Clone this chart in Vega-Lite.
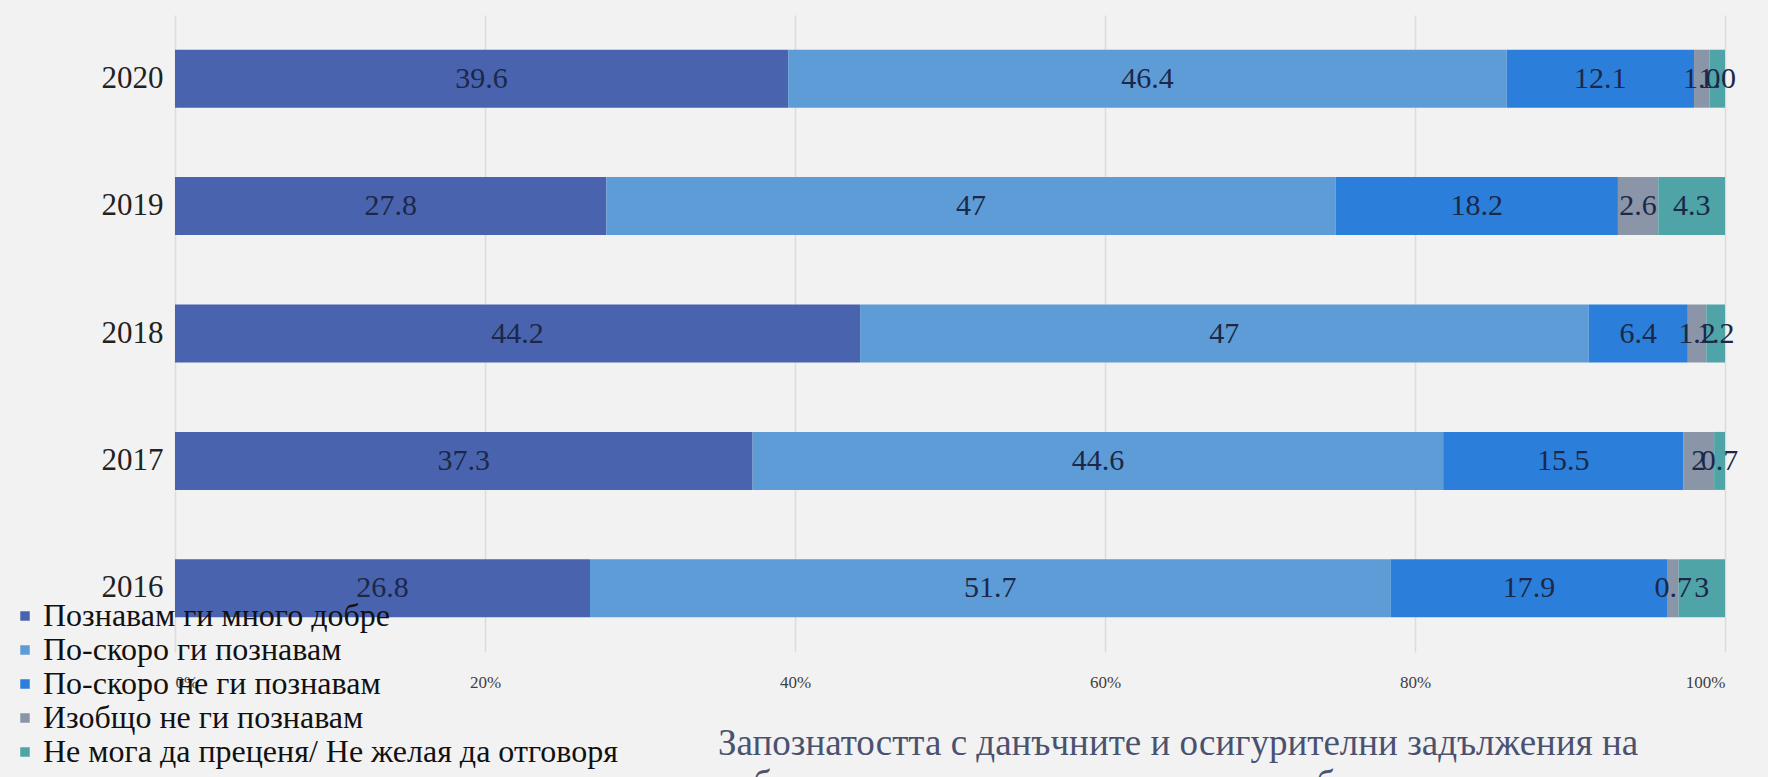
{
  "$schema": "https://vega.github.io/schema/vega-lite/v6.json",
  "autosize": {"type": "none"},
  "width": 1550,
  "height": 637,
  "padding": {"left": 175, "top": 15, "right": 43, "bottom": 125},
  "background": "#f2f2f2",
  "config": {
    "view": {"stroke": null},
    "font": "Liberation Serif"
  },
  "title": {
    "text": ["Запознатостта с данъчните и осигурителни задължения на", "собствената компания продължава да бъде много висока, като"],
    "orient": "bottom",
    "anchor": "start",
    "frame": "group",
    "dx": 543,
    "offset": -42,
    "fontSize": 37,
    "font": "Liberation Serif",
    "fontWeight": "normal",
    "color": "#4a5270",
    "lineHeight": 41
  },
  "data": {
    "values": [
      {"year": "2020", "k": 1, "cat": "Познавам ги много добре", "v": 39.6, "t": "39.6"},
      {"year": "2020", "k": 2, "cat": "По-скоро ги познавам", "v": 46.4, "t": "46.4"},
      {"year": "2020", "k": 3, "cat": "По-скоро не ги познавам", "v": 12.1, "t": "12.1"},
      {"year": "2020", "k": 4, "cat": "Изобщо не ги познавам", "v": 1.0, "t": "1.0"},
      {"year": "2020", "k": 5, "cat": "Не мога да преценя/ Не желая да отговоря", "v": 1.0, "t": "1.0"},
      {"year": "2019", "k": 1, "cat": "Познавам ги много добре", "v": 27.8, "t": "27.8"},
      {"year": "2019", "k": 2, "cat": "По-скоро ги познавам", "v": 47, "t": "47"},
      {"year": "2019", "k": 3, "cat": "По-скоро не ги познавам", "v": 18.2, "t": "18.2"},
      {"year": "2019", "k": 4, "cat": "Изобщо не ги познавам", "v": 2.6, "t": "2.6"},
      {"year": "2019", "k": 5, "cat": "Не мога да преценя/ Не желая да отговоря", "v": 4.3, "t": "4.3"},
      {"year": "2018", "k": 1, "cat": "Познавам ги много добре", "v": 44.2, "t": "44.2"},
      {"year": "2018", "k": 2, "cat": "По-скоро ги познавам", "v": 47, "t": "47"},
      {"year": "2018", "k": 3, "cat": "По-скоро не ги познавам", "v": 6.4, "t": "6.4"},
      {"year": "2018", "k": 4, "cat": "Изобщо не ги познавам", "v": 1.2, "t": "1.2"},
      {"year": "2018", "k": 5, "cat": "Не мога да преценя/ Не желая да отговоря", "v": 1.2, "t": "1.2"},
      {"year": "2017", "k": 1, "cat": "Познавам ги много добре", "v": 37.3, "t": "37.3"},
      {"year": "2017", "k": 2, "cat": "По-скоро ги познавам", "v": 44.6, "t": "44.6"},
      {"year": "2017", "k": 3, "cat": "По-скоро не ги познавам", "v": 15.5, "t": "15.5"},
      {"year": "2017", "k": 4, "cat": "Изобщо не ги познавам", "v": 2, "t": "2"},
      {"year": "2017", "k": 5, "cat": "Не мога да преценя/ Не желая да отговоря", "v": 0.7, "t": "0.7"},
      {"year": "2016", "k": 1, "cat": "Познавам ги много добре", "v": 26.8, "t": "26.8"},
      {"year": "2016", "k": 2, "cat": "По-скоро ги познавам", "v": 51.7, "t": "51.7"},
      {"year": "2016", "k": 3, "cat": "По-скоро не ги познавам", "v": 17.9, "t": "17.9"},
      {"year": "2016", "k": 4, "cat": "Изобщо не ги познавам", "v": 0.7, "t": "0.7"},
      {"year": "2016", "k": 5, "cat": "Не мога да преценя/ Не желая да отговоря", "v": 3, "t": "3"}
    ]
  },
  "transform": [
    {"stack": "v", "groupby": ["year"], "sort": [{"field": "k", "order": "ascending"}], "offset": "normalize", "as": ["s", "e"]}
  ],
  "encoding": {
    "y": {
      "field": "year",
      "type": "ordinal",
      "sort": "descending",
      "scale": {"paddingInner": 0.545, "paddingOuter": 0.2725},
      "axis": {"title": null, "domain": false, "ticks": false, "labelFont": "Liberation Serif", "labelFontSize": 31, "labelColor": "#222222", "labelPadding": 12}
    }
  },
  "layer": [
    {
      "mark": {"type": "bar"},
      "encoding": {
        "x": {
          "field": "s",
          "type": "quantitative",
          "scale": {"domain": [0, 1], "nice": false, "zero": true},
          "axis": {"title": null, "format": "%", "values": [0, 0.2, 0.4, 0.6, 0.8, 1], "domain": false, "ticks": false, "grid": true, "gridColor": "#dcdcdc", "gridWidth": 1.5, "labelFont": "Liberation Serif", "labelFontSize": 17, "labelColor": "#404040", "labelPadding": 22}
        },
        "x2": {"field": "e"},
        "color": {
          "field": "cat",
          "type": "nominal",
          "scale": {
            "domain": ["Познавам ги много добре", "По-скоро ги познавам", "По-скоро не ги познавам", "Изобщо не ги познавам", "Не мога да преценя/ Не желая да отговоря"],
            "range": ["#4a63ae", "#5d9cd6", "#2b7fda", "#8a95a8", "#4ea4a6"]
          },
          "legend": {
            "title": null,
            "orient": "none",
            "legendX": -166,
            "legendY": 585,
            "symbolType": "square",
            "symbolSize": 90,
            "symbolStrokeWidth": 0,
            "labelFont": "Liberation Serif",
            "labelFontSize": 32,
            "labelColor": "#111111",
            "labelOffset": 2,
            "rowPadding": 2,
            "labelLimit": 800
          }
        }
      }
    },
    {
      "transform": [
        {"fold": ["s", "e"], "as": ["pos", "val"]},
        {"aggregate": [{"op": "mean", "field": "val", "as": "mid"}], "groupby": ["year", "cat", "t"]}
      ],
      "mark": {"type": "text", "font": "Liberation Serif", "fontSize": 30, "color": "#1b2848", "baseline": "middle", "align": "center"},
      "encoding": {
        "x": {"field": "mid", "type": "quantitative"},
        "text": {"field": "t"}
      }
    }
  ]
}
